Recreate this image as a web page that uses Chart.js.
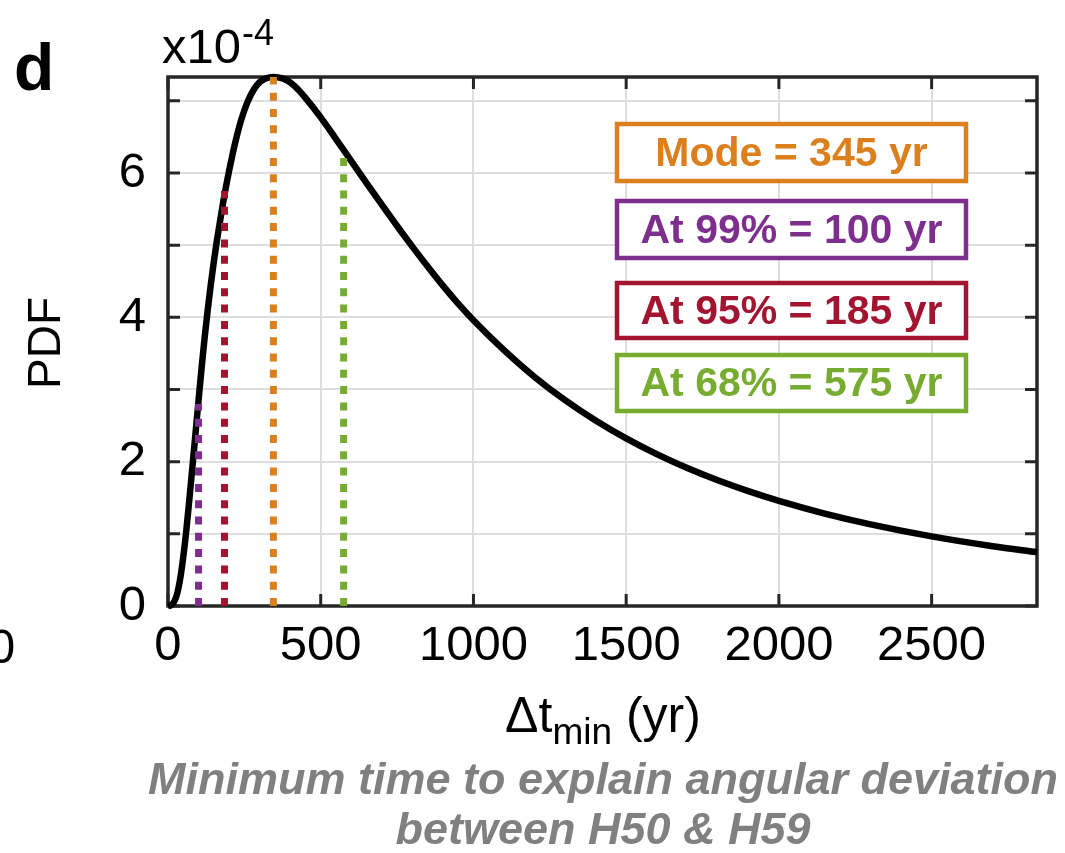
<!DOCTYPE html>
<html>
<head>
<meta charset="utf-8">
<script src="https://cdn.jsdelivr.net/npm/chart.js@4.4.1/dist/chart.umd.min.js"></script>
<style>
  html, body { margin: 0; padding: 0; background: #fff; }
  #wrap { width: 1065px; height: 853px; }
</style>
</head>
<body>
<div id="wrap"><canvas id="pdfChart" width="1065" height="853"></canvas></div>
<script>
// PDF of minimum time (values in units of 1e-4)
const tYears = [0, 10, 20, 30, 40, 50, 60, 70, 80, 90, 100, 110, 120, 130, 140, 150, 160, 175, 185, 200,
  220, 240, 260, 280, 300, 320, 345, 375, 400, 425, 450, 500, 550, 600, 650, 700, 750, 800, 850, 900,
  950, 1000, 1100, 1200, 1300, 1400, 1500, 1600, 1700, 1800, 1900, 2000, 2150, 2300, 2500, 2700, 2845];
const pdfE4 = [0, 0.01, 0.06, 0.17, 0.38, 0.68, 1.05, 1.48, 1.93, 2.39, 2.85, 3.3, 3.72, 4.1, 4.45, 4.77, 5.06, 5.45, 5.7, 6.03,
  6.42, 6.74, 6.98, 7.15, 7.26, 7.31, 7.33, 7.31, 7.255, 7.16, 7.04, 6.77, 6.47, 6.165, 5.86, 5.56, 5.265, 4.98, 4.705, 4.44,
  4.19, 3.96, 3.545, 3.174, 2.852, 2.57, 2.322, 2.104, 1.912, 1.742, 1.591, 1.456, 1.28, 1.131, 0.965, 0.829, 0.746];

// dotted markers: 99%, 95%, mode, 68%
const markerYears = [100, 185, 345, 575];
const markerPdf = [2.8, 5.75, 7.33, 6.25];

const boxLabels = ["Mode = 345 yr", "At 99% = 100 yr", "At 95% = 185 yr", "At 68% = 575 yr"];
const xTickValues = [0, 500, 1000, 1500, 2000, 2500];
const yTickValues = [0, 1, 2, 3, 4, 5, 6, 7];
const yLabelValues = [0, 2, 4, 6];
const xMax = 2845;
const yMax = 7.33;

const purple = "#7E2F8E", red = "#A2142F", orange = "#DC7F1D", green = "#77AC30";
const markerColors = [purple, red, orange, green];
const boxColors = [orange, purple, red, green];
const FONT = "'Liberation Sans', Arial, Helvetica, sans-serif";
const AXIS = "#262626";

Chart.defaults.font.family = FONT;

const datasets = [{
    data: tYears.map((t, i) => ({ x: t, y: pdfE4[i] })),
    borderColor: "#000",
    borderWidth: 6.5,
    pointRadius: 0,
    cubicInterpolationMode: "monotone",
    clip: false,
    order: 2
}];
markerYears.forEach((t, i) => {
    datasets.push({
        data: [{ x: t, y: 0 }, { x: t, y: markerPdf[i] }],
        borderColor: markerColors[i],
        borderWidth: 7,
        borderDash: [8, 8.3],
        borderCapStyle: "butt",
        pointRadius: 0,
        order: 1
    });
});

const decor = {
    id: "decor",
    beforeDatasetsDraw(chart) {
        const ctx = chart.ctx, a = chart.chartArea;
        const xs = chart.scales.x, ys = chart.scales.y;
        ctx.save();
        ctx.strokeStyle = AXIS;
        ctx.lineWidth = 3.5;
        ctx.strokeRect(a.left, a.top, a.right - a.left, a.bottom - a.top);
        ctx.lineWidth = 3;
        ctx.beginPath();
        xTickValues.forEach(v => {
            const px = xs.getPixelForValue(v);
            ctx.moveTo(px, a.bottom); ctx.lineTo(px, a.bottom - 12);
            ctx.moveTo(px, a.top); ctx.lineTo(px, a.top + 12);
        });
        yTickValues.forEach(v => {
            const py = ys.getPixelForValue(v);
            ctx.moveTo(a.left, py); ctx.lineTo(a.left + 12, py);
            ctx.moveTo(a.right, py); ctx.lineTo(a.right - 12, py);
        });
        ctx.stroke();
        ctx.restore();
    },
    afterDatasetsDraw(chart) {
        const ctx = chart.ctx;
        const tops = [122, 199, 281, 353];
        const heights = [61, 61, 59, 60];
        ctx.save();
        ctx.textAlign = "center";
        ctx.textBaseline = "middle";
        ctx.font = "bold 41px " + FONT;
        boxLabels.forEach((lab, i) => {
            ctx.fillStyle = "#fff";
            ctx.fillRect(615, tops[i], 353, heights[i]);
            ctx.strokeStyle = boxColors[i];
            ctx.lineWidth = 4.5;
            ctx.strokeRect(617, tops[i] + 2, 349, heights[i] - 4);
            ctx.fillStyle = boxColors[i];
            ctx.fillText(lab, 791.5, tops[i] + heights[i] / 2 + 2);
        });
        ctx.restore();
    },
    afterDraw(chart) {
        const ctx = chart.ctx;
        ctx.save();
        ctx.fillStyle = "#000";
        ctx.textBaseline = "alphabetic";
        ctx.textAlign = "left";
        // panel letter
        ctx.font = "bold 66px " + FONT;
        ctx.fillText("d", 14, 90);
        // exponent
        ctx.font = "49px " + FONT;
        ctx.fillText("x10", 162, 63);
        const w = ctx.measureText("x10").width;
        ctx.font = "36px " + FONT;
        ctx.fillText("-4", 162 + w + 1, 45);
        // clipped tick label of neighbouring panel
        ctx.font = "49px " + FONT;
        ctx.fillText("0", -12, 663);
        // y title
        ctx.save();
        ctx.translate(60, 343);
        ctx.rotate(-Math.PI / 2);
        ctx.textAlign = "center";
        ctx.font = "46px " + FONT;
        ctx.fillText("PDF", 0, 0);
        ctx.restore();
        // x title with subscript
        const big = "50px " + FONT, small = "37px " + FONT;
        ctx.font = big;
        const w1 = ctx.measureText("\u0394t").width;
        const w3 = ctx.measureText(" (yr)").width;
        ctx.font = small;
        const w2 = ctx.measureText("min").width;
        let x0 = 603 - (w1 + w2 + w3) / 2;
        ctx.font = big;
        ctx.fillText("\u0394t", x0, 732);
        ctx.font = small;
        ctx.fillText("min", x0 + w1, 744);
        ctx.font = big;
        ctx.fillText(" (yr)", x0 + w1 + w2, 732);
        // caption
        ctx.fillStyle = "#808080";
        ctx.textAlign = "center";
        ctx.font = "italic bold 45px " + FONT;
        ctx.fillText("Minimum time to explain angular deviation", 603, 794);
        ctx.fillText("between H50 & H59", 603, 844);
        ctx.restore();
    }
};

new Chart(document.getElementById("pdfChart"), {
    type: "line",
    data: { datasets: datasets },
    options: {
        responsive: false,
        animation: false,
        events: [],
        layout: { padding: { left: 0, top: 77, right: 28, bottom: 0 } },
        plugins: { legend: { display: false }, tooltip: { enabled: false } },
        scales: {
            x: {
                type: "linear",
                min: 0,
                max: xMax,
                afterFit(scale) { scale.height = 853 - 606; },
                afterBuildTicks(scale) { scale.ticks = xTickValues.map(v => ({ value: v })); },
                grid: { color: "#dedede", lineWidth: 2, drawTicks: false },
                border: { display: false },
                ticks: {
                    maxRotation: 0,
                    autoSkip: false,
                    padding: 11,
                    color: "#000",
                    font: { size: 49 },
                    callback: v => String(v)
                }
            },
            y: {
                type: "linear",
                min: 0,
                max: yMax,
                afterFit(scale) { scale.width = 168; },
                afterBuildTicks(scale) { scale.ticks = yTickValues.map(v => ({ value: v })); },
                grid: { color: "#dedede", lineWidth: 2, drawTicks: false },
                border: { display: false },
                ticks: {
                    padding: 22,
                    autoSkip: false,
                    color: "#000",
                    font: { size: 49 },
                    callback: v => yLabelValues.includes(v) ? String(v) : ""
                }
            }
        }
    },
    plugins: [decor]
});
</script>
</body>
</html>
